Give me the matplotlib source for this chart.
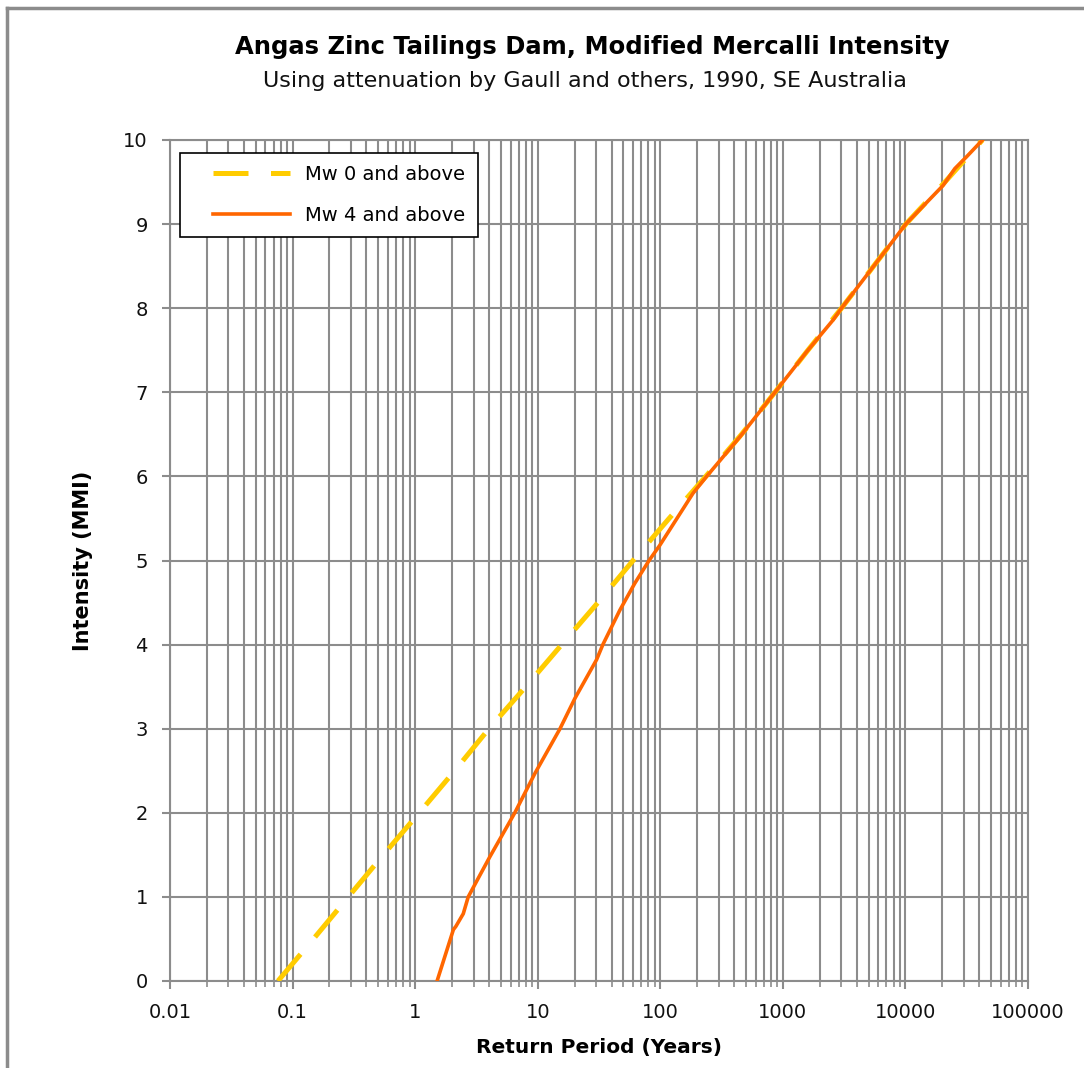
import matplotlib
matplotlib.use('Agg')
import matplotlib.pyplot as plt
from matplotlib.lines import Line2D
from matplotlib.legend_handler import HandlerLine2D
from matplotlib.ticker import LogLocator, FixedLocator, NullFormatter

# intensity (MMI) vs return period (years)
mw0_intensity = [0.0, 0.5, 1.0, 1.5, 2.0, 2.5, 3.0, 3.5, 4.0, 4.5, 5.0, 5.5, 6.0,
                 6.5, 7.0, 7.5, 8.0, 8.5, 9.0, 9.5, 10.0]
mw0_period = [0.076, 0.148, 0.285, 0.55, 1.08, 2.1, 4.0, 8.0, 15.7, 31.0, 60.0,
              118, 235, 460, 862, 1600, 3010, 5500, 10070, 21000, 42500]

mw4_intensity = [0.0, 0.61, 0.65, 0.80, 1.0, 1.26, 1.48, 1.86, 2.0, 2.47, 3.0, 3.36,
                 3.82, 4.0, 4.41, 4.73, 5.0, 5.18, 5.80, 6.0, 6.47, 7.0, 7.48, 7.86,
                 8.0, 9.0, 9.46, 9.66, 9.80, 10.0]
mw4_period = [1.51, 2.05, 2.15, 2.47, 2.71, 3.38, 4.08, 5.74, 6.5, 9.5, 15.2, 20.1,
              30.2, 34.0, 46.8, 62.0, 81.0, 99.0, 185, 239, 446, 862, 1560, 2570,
              3010, 10070, 20300, 25300, 31500, 42500]

x_ticks = [0.01, 0.1, 1, 10, 100, 1000, 10000, 100000]
x_labels = ['0.01', '0.1', '1', '10', '100', '1000', '10000', '100000']
y_ticks = list(range(0, 11))
series_labels = ['Mw 0 and above', 'Mw 4 and above']

grid_col = '#8c8c8c'
yellow = '#ffcc00'
orange = '#ff6600'

fig = plt.figure(figsize=(10.84, 10.68), dpi=100)
ax = fig.add_axes([170 / 1084, 1 - 981 / 1068, (1028 - 170) / 1084, (981 - 140) / 1068])

ax.plot(mw0_period, mw0_intensity, color=yellow, lw=3.6, dashes=(7, 4.5),
        label=series_labels[0], zorder=3)
ax.plot(mw4_period, mw4_intensity, color=orange, lw=2.6,
        label=series_labels[1], zorder=4)

ax.set_xscale('log')
ax.set_xlim(0.01, 100000)
ax.set_ylim(0, 10)
ax.xaxis.set_major_locator(FixedLocator(x_ticks))
ax.set_xticklabels(x_labels)
ax.xaxis.set_minor_locator(LogLocator(base=10, subs=range(2, 10), numticks=50))
ax.xaxis.set_minor_formatter(NullFormatter())
ax.set_yticks(y_ticks)

ax.grid(True, which='both', axis='x', color=grid_col, lw=1.5)
ax.grid(True, which='major', axis='y', color=grid_col, lw=1.5)
ax.set_axisbelow(True)
for side in ['left', 'bottom', 'top', 'right']:
    ax.spines[side].set_color(grid_col)
    ax.spines[side].set_linewidth(1.5)
ax.tick_params(axis='both', which='major', direction='out', length=6, width=1.5,
               color=grid_col, labelsize=14, labelcolor='#111111')
ax.tick_params(axis='y', which='major', pad=10)
ax.tick_params(axis='x', which='major', pad=10)
ax.tick_params(axis='x', which='minor', direction='out', length=4, width=1.2, color=grid_col)

ax.set_xlabel('Return Period (Years)', fontsize=14.5, fontweight='bold', labelpad=11)
ax.set_ylabel('Intensity (MMI)', fontsize=15, fontweight='bold', labelpad=22)

handles = [Line2D([], [], color=yellow, lw=3.6, dashes=(7, 4.5)),
           Line2D([], [], color=orange, lw=2.6)]
leg = ax.legend(handles, series_labels, loc='upper left',
                bbox_to_anchor=(0.012, 0.985), fontsize=14, fancybox=False,
                framealpha=1, edgecolor='black', handlelength=5.0, borderpad=0.65,
                labelspacing=1.1, handletextpad=0.77, borderaxespad=0,
                handler_map={h: HandlerLine2D(xpad=1.05) for h in handles})
leg.get_frame().set_linewidth(1.2)

fig.text(592 / 1084, 1 - 47 / 1068, 'Angas Zinc Tailings Dam, Modified Mercalli Intensity',
         ha='center', va='center', fontsize=17.5, fontweight='bold')
fig.text(585 / 1084, 1 - 81 / 1068, 'Using attenuation by Gaull and others, 1990, SE Australia',
         ha='center', va='center', fontsize=16, color='#111111')

# outer chart frame (only top and left edges visible)
fig.add_artist(Line2D([7 / 1084, 1], [1 - 8 / 1068, 1 - 8 / 1068], color=grid_col, lw=2.5))
fig.add_artist(Line2D([7 / 1084, 7 / 1084], [0, 1 - 8 / 1068], color=grid_col, lw=2.5))

fig.savefig('out.png', dpi=100)
